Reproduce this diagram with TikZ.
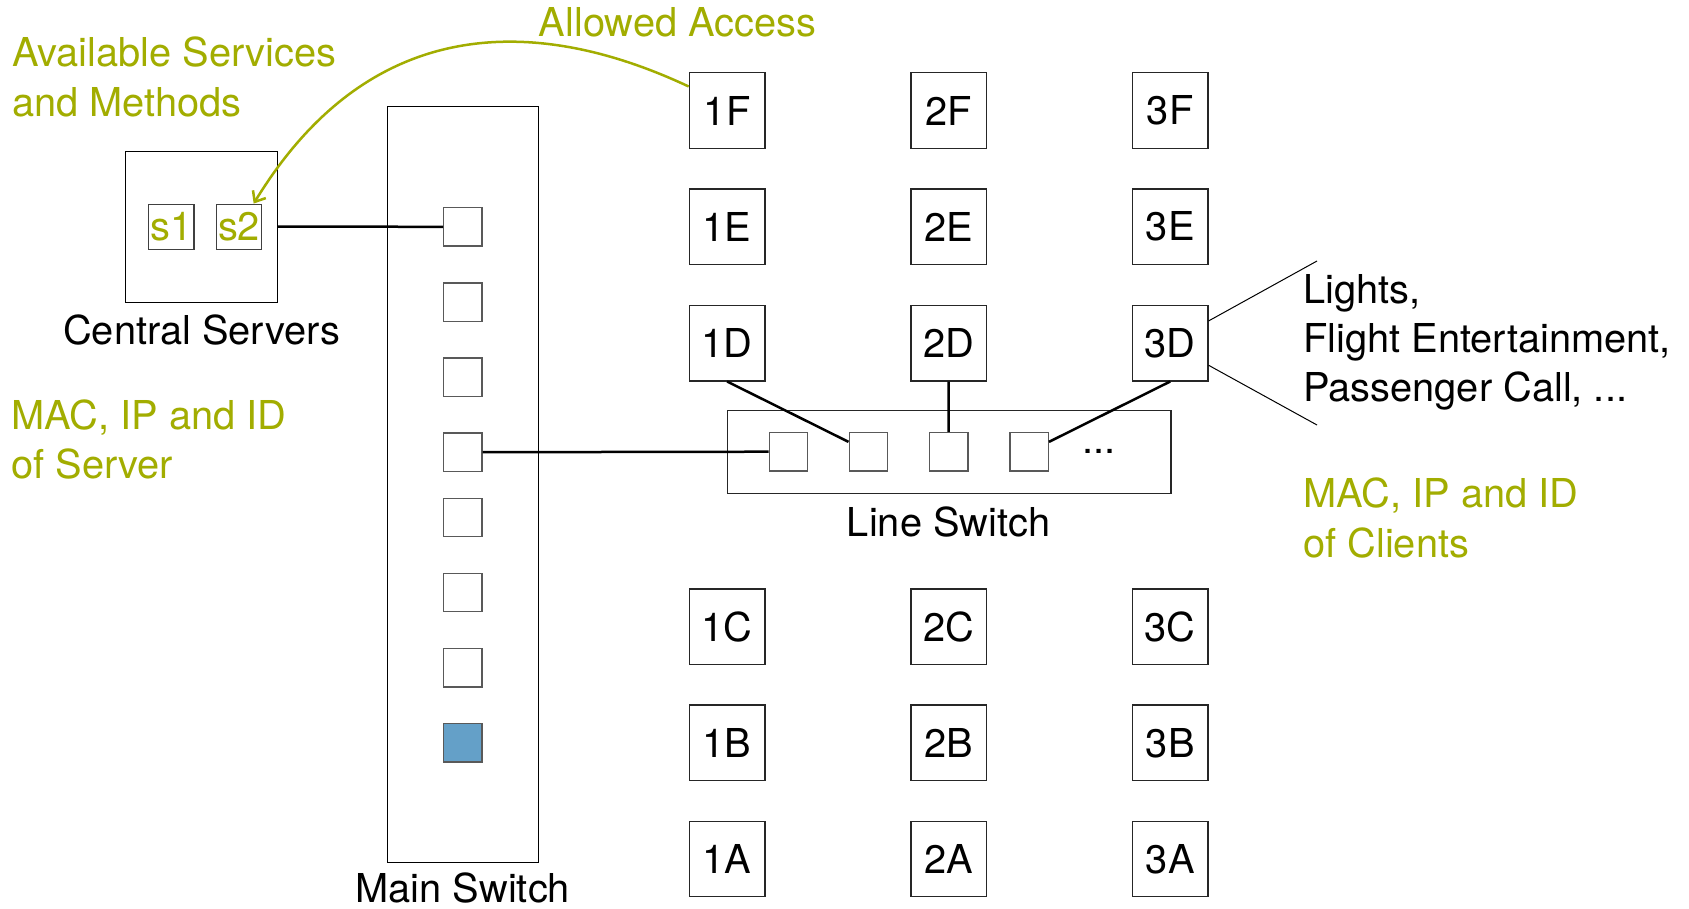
\documentclass[tikz,border=0pt]{standalone}
\usepackage{fontspec}
\setmainfont{TeX Gyre Heros}
\usetikzlibrary{arrows.meta}
\definecolor{tumgreen}{HTML}{A2AD00}
\definecolor{tumlightblue}{HTML}{64A0C8}
\newcommand{\bigfont}{\fontsize{39.8}{49.5}\selectfont}
\tikzset{
  every node/.append style={font=\bigfont},
  client/.style={draw=black!85, line width=1.3pt, minimum size=75.5pt, inner sep=0pt},
  port/.style={draw=black!65, line width=1.3pt, minimum size=38.3pt, inner sep=0pt},
  frame/.style={draw=black, line width=1.2pt, inner sep=0pt},
  sbox/.style={draw=black!75, line width=1.2pt, minimum width=45.5pt, minimum height=45.5pt, inner sep=0pt, text=tumgreen},
  link/.style={line width=2.5pt},
  callout/.style={line width=1pt},
  note/.style={text=tumgreen, anchor=base west, inner sep=0pt},
  caption/.style={anchor=base, inner sep=0pt},
  plain/.style={anchor=base west, inner sep=0pt},
}
\begin{document}
\begin{tikzpicture}[x=1pt, y=-1pt]
\useasboundingbox[fill=white] (0,0) rectangle (1689,908);

% central servers
\node[frame, minimum width=151.8pt, minimum height=151pt] (cs) at (201.6,226.6) {};
\node[sbox] (s1) at (171.3,226.9) {s1};
\node[sbox] (s2) at (239.1,226.9) {s2};
\node[caption] (cslab) at (201.6,344) {Central Servers};

% main switch
\node[frame, minimum width=151pt, minimum height=755.6pt] (ms) at (462.8,484.5) {};
\node[port] (mp1) at (462.9,226.8) {};
\node[port] (mp2) at (462.9,302.0) {};
\node[port] (mp3) at (462.9,377.2) {};
\node[port] (mp4) at (462.9,452.2) {};
\node[port] (mp5) at (462.9,517.5) {};
\node[port] (mp6) at (462.9,592.5) {};
\node[port] (mp7) at (462.9,667.7) {};
\node[port, fill=tumlightblue] (mp8) at (462.9,742.8) {};
\node[caption] (mslab) at (462.8,902.5) {Main Switch};

% line switch
\node[frame, draw=black!85, minimum width=443.7pt, minimum height=82.6pt] (ls) at (949.2,452) {};
\node[port] (lp1) at (788.3,451.7) {};
\node[port] (lp2) at (868.3,451.7) {};
\node[port] (lp3) at (948.7,451.7) {};
\node[port] (lp4) at (1029.2,451.7) {};
\node[plain] (lsdots) at (1082,453.5) {...};
\node[caption] (lslab) at (948.7,536) {Line Switch};

% clients
\node[client] (c1F) at (727.1,110.5) {1F};
\node[client] (c2F) at (948.6,110.5) {2F};
\node[client] (c3F) at (1170.2,110.5) {3F};
\node[client] (c1E) at (727.1,226.7) {1E};
\node[client] (c2E) at (948.6,226.7) {2E};
\node[client] (c3E) at (1170.2,226.7) {3E};
\node[client] (c1D) at (727.1,343.1) {1D};
\node[client] (c2D) at (948.6,343.1) {2D};
\node[client] (c3D) at (1170.2,343.1) {3D};
\node[client] (c1C) at (727.1,626.7) {1C};
\node[client] (c2C) at (948.6,626.7) {2C};
\node[client] (c3C) at (1170.2,626.7) {3C};
\node[client] (c1B) at (727.1,742.8) {1B};
\node[client] (c2B) at (948.6,742.8) {2B};
\node[client] (c3B) at (1170.2,742.8) {3B};
\node[client] (c1A) at (727.1,859.0) {1A};
\node[client] (c2A) at (948.6,859.0) {2A};
\node[client] (c3A) at (1170.2,859.0) {3A};

% connectors
\draw[link] (cs.east) -- (mp1.west);
\draw[link] (mp4.east) -- (lp1.west);
\draw[link] (c1D.south) -- (lp2);
\draw[link] (c2D.south) -- (lp3.north);
\draw[link] (c3D.south) -- (lp4);

% callout
\coordinate (calltop) at (1317,261);
\coordinate (callbot) at (1317,425);
\draw[callout] (c3D.30) -- (calltop);
\draw[callout] (c3D.-30) -- (callbot);
\node[plain] (dev1) at (1303,303.5) {Lights,};
\node[plain] (dev2) at (1303,352.5) {Flight Entertainment,};
\node[plain] (dev3) at (1303,401.5) {Passenger Call, ...};

% green notes
\node[note] (avail1) at (12,66) {Available Services};
\node[note] (avail2) at (12,116) {and Methods};
\node[note] (allowed) at (538.6,36.5) {Allowed Access};
\node[note] (macs1) at (11,429) {MAC, IP and ID};
\node[note] (macs2) at (11,478.5) {of Server};
\node[note] (macc1) at (1303,507) {MAC, IP and ID};
\node[note] (macc2) at (1303,557) {of Clients};

% allowed access arrow
\draw[tumgreen, line width=2.5pt, -{Straight Barb[length=9pt, width=15pt]}]
  (c1F.148) .. controls (581,36) and (388,-17) .. (s2.58);
\end{tikzpicture}
\end{document}
